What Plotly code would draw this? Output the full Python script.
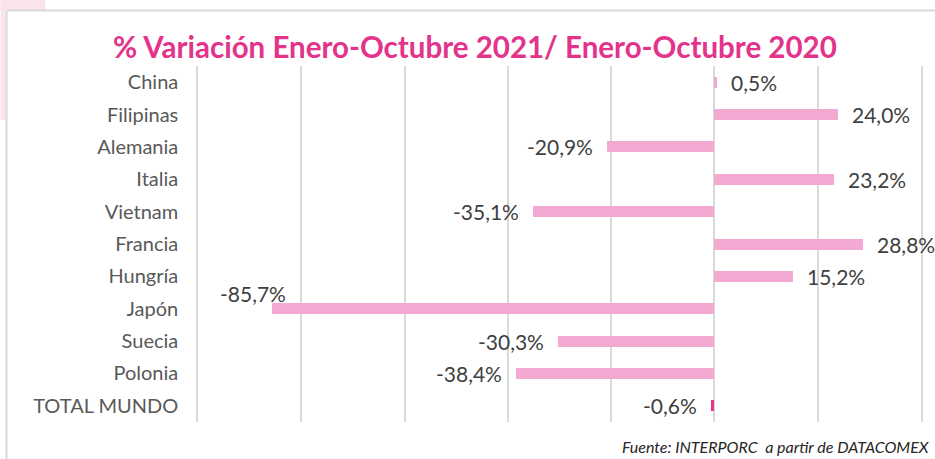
import plotly.graph_objects as go

# Data: % change Jan-Oct 2021 vs Jan-Oct 2020
countries = ["China", "Filipinas", "Alemania", "Italia", "Vietnam", "Francia",
             "Hungría", "Japón", "Suecia", "Polonia", "TOTAL MUNDO"]
variation = [0.5, 24.0, -20.9, 23.2, -35.1, 28.8, 15.2, -85.7, -30.3, -38.4, -0.6]

W, H = 935, 459
ML, MR, MT, MB = 198, 12, 66, 37
PW, PH = W - ML - MR, H - MT - MB


def px_x(p):
    return (p - ML) / PW


def px_y(p):
    return 1 - (p - MT) / PH


LIGHT = "#f3aad2"
DARK = "#e6338d"
colors = [DARK if c == "TOTAL MUNDO" else LIGHT for c in countries]

fig = go.Figure()
fig.add_trace(go.Bar(
    x=variation, y=countries, orientation="h",
    marker=dict(color=colors, line=dict(width=0)),
    width=0.34, hoverinfo="skip",
))

# value labels next to bar ends
for c, v in zip(countries, variation):
    txt = f"{v:.1f}".replace(".", ",") + "%"
    if c == "Japón":
        fig.add_annotation(x=v, y=c, text=txt, showarrow=False,
                           xanchor="right", xshift=16, yshift=15,
                           font=dict(family="Lato", size=21, color="#404040"))
    else:
        fig.add_annotation(x=v, y=c, text=txt, showarrow=False,
                           xanchor="left" if v >= 0 else "right",
                           xshift=12 if v >= 0 else -12,
                           font=dict(family="Lato", size=21, color="#404040"))

# decorative frame and tinted corner
shapes = [
    dict(type="rect", xref="paper", yref="paper",
         x0=px_x(0), x1=px_x(45), y0=px_y(0), y1=px_y(10),
         fillcolor="#fbe3ee", line=dict(width=0), layer="below"),
    dict(type="rect", xref="paper", yref="paper",
         x0=px_x(0), x1=px_x(5), y0=px_y(0), y1=px_y(120),
         fillcolor="#fbe3ee", line=dict(width=0), layer="below"),
    dict(type="line", xref="paper", yref="paper",
         x0=px_x(6), x1=px_x(940), y0=px_y(10.5), y1=px_y(10.5),
         line=dict(color="#d9d9d9", width=2)),
    dict(type="line", xref="paper", yref="paper",
         x0=px_x(6), x1=px_x(6), y0=px_y(10.5), y1=px_y(465),
         line=dict(color="#d9d9d9", width=2)),
]

fig.add_annotation(xref="paper", yref="paper", x=px_x(476), y=px_y(46),
                   text="<b>% Variación Enero-Octubre 2021/ Enero-Octubre 2020</b>",
                   showarrow=False, xanchor="center", yanchor="middle",
                   font=dict(family="Lato", size=29.5, color="#e3338b"))

fig.add_annotation(xref="paper", yref="paper", x=px_x(934), y=px_y(446),
                   text="<i>Fuente: INTERPORC  a partir de DATACOMEX</i>",
                   showarrow=False, xanchor="right", yanchor="middle",
                   font=dict(family="Lato", size=16, color="#262626"))

fig.update_layout(
    width=W, height=H,
    margin=dict(l=ML, r=MR, t=MT, b=MB),
    paper_bgcolor="white", plot_bgcolor="white",
    showlegend=False, shapes=shapes,
    bargap=0,
)
fig.update_xaxes(range=[-100, 40], dtick=20, tick0=0, showticklabels=False,
                 showgrid=True, gridcolor="#d9d9d9", gridwidth=1.5,
                 zeroline=False, showline=False, fixedrange=True)
# the outer gridlines at -100 and 40 coincide with the plot edges
fig.update_yaxes(categoryorder="array", categoryarray=countries[::-1],
                 showgrid=False, zeroline=False,
                 showline=True, mirror=True, linecolor="#d9d9d9", linewidth=1.5,
                 ticks="", ticklabelstandoff=14,
                 tickfont=dict(family="Lato", size=20, color="#595959"))

fig.write_html("out.html", config={"displayModeBar": False})
